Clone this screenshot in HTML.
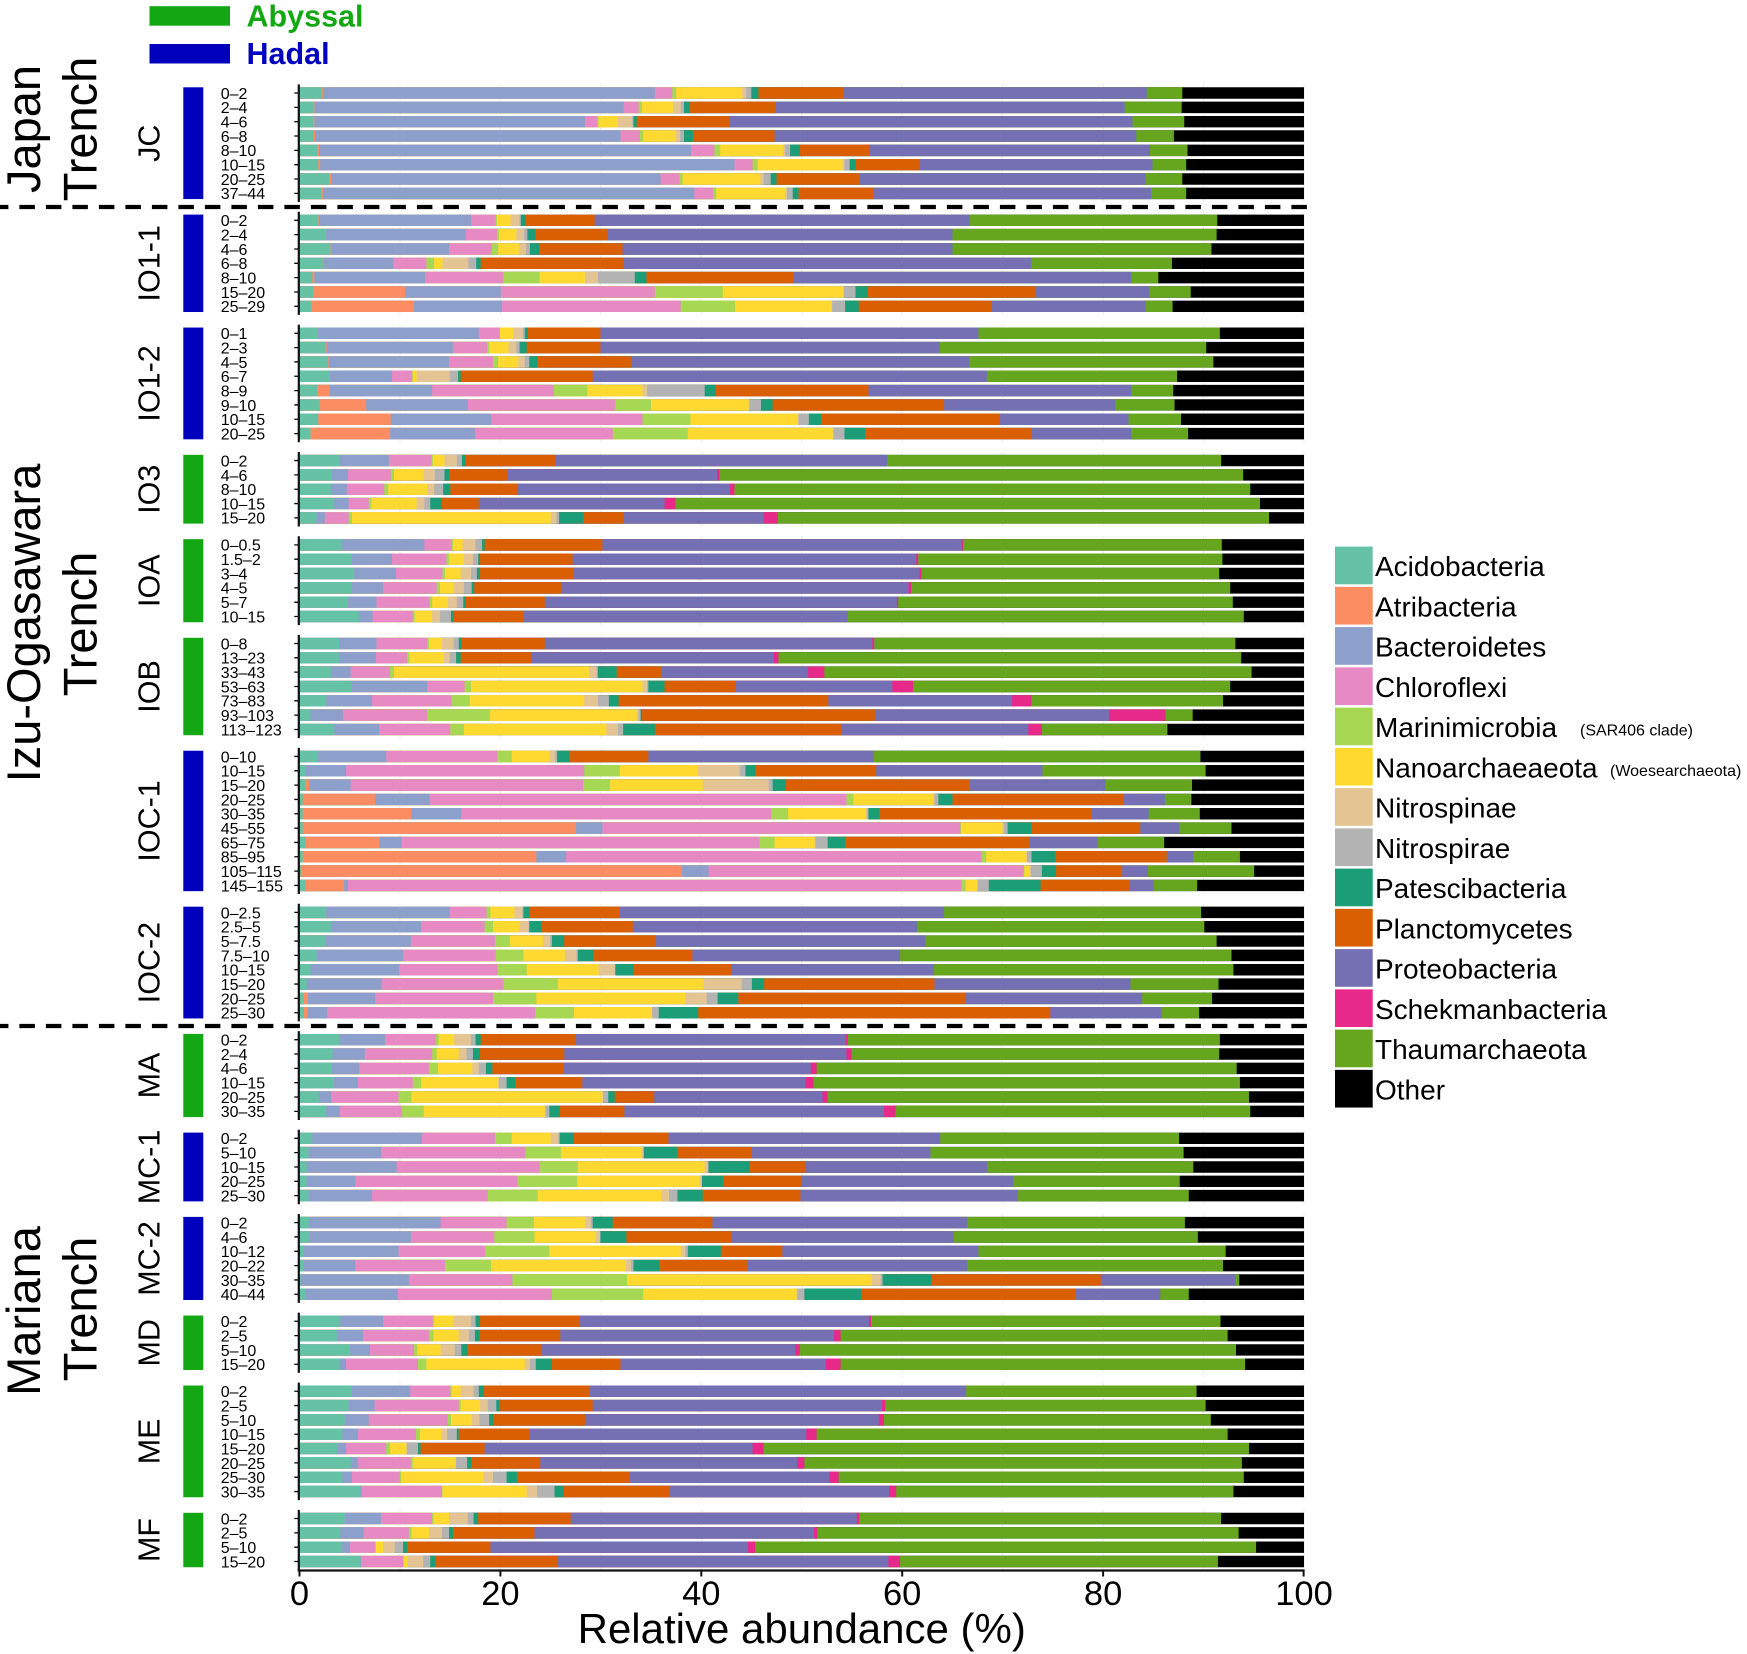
<!DOCTYPE html>
<html><head><meta charset="utf-8"><style>
html,body{margin:0;padding:0;background:#fff}
svg{display:block}
text{font-family:"Liberation Sans",Arial,sans-serif;fill:#000}
.B line{stroke-width:11.46px}
.a{stroke:#66C2A5}.b{stroke:#FC8D62}.c{stroke:#8DA0CB}.d{stroke:#E78AC3}.e{stroke:#A6D854}.f{stroke:#FFD92F}.g{stroke:#E5C494}.h{stroke:#B3B3B3}.i{stroke:#1B9E77}.j{stroke:#D95F02}.k{stroke:#7570B3}.l{stroke:#E7298A}.m{stroke:#66A61E}.n{stroke:#000}
.mk{fill:#fff}
.tk{stroke:#000;stroke-width:1.3;fill:none}
.ax{stroke:#111;stroke-width:2.2}
.hd{fill:#0000bd}.ab{fill:#13a813}
.fl{font-size:30.5px;text-anchor:middle}
.tr{font-size:47px;text-anchor:middle}
.dl{font-size:16px}
.lg{font-size:28px}
.sm{font-size:16px}
.xt{font-size:34.5px;text-anchor:middle}
</style></head><body>
<svg width="1747" height="1654" viewBox="0 0 1747 1654" xmlns="http://www.w3.org/2000/svg">
<rect width="1747" height="1654" fill="#fff"/>
<!-- top legend -->
<rect class="ab" x="149.5" y="6.2" width="80.5" height="19.5"/>
<rect class="hd" x="149.5" y="44" width="80.5" height="19.5"/>
<text x="246.5" y="26.3" style="font-size:30.5px;font-weight:bold;fill:#13a813">Abyssal</text>
<text x="246.5" y="63.8" style="font-size:30.5px;font-weight:bold;fill:#0000bd">Hadal</text>
<!-- trench labels -->
<text class="tr" transform="translate(40,129) rotate(-90)">Japan</text>
<text class="tr" transform="translate(96.7,129) rotate(-90)">Trench</text>
<text class="tr" transform="translate(40,623) rotate(-90)">Izu-Ogasawara</text>
<text class="tr" transform="translate(96.7,624) rotate(-90)">Trench</text>
<text class="tr" transform="translate(40,1311) rotate(-90)">Mariana</text>
<text class="tr" transform="translate(96.7,1309) rotate(-90)">Trench</text>
<!-- gridlines -->
<g stroke="#ebebeb" stroke-width="1">
<line x1="399.95" y1="84" x2="399.95" y2="1570"/><line x1="500.4" y1="84" x2="500.4" y2="1570"/><line x1="600.85" y1="84" x2="600.85" y2="1570"/><line x1="701.3" y1="84" x2="701.3" y2="1570"/><line x1="801.75" y1="84" x2="801.75" y2="1570"/><line x1="902.2" y1="84" x2="902.2" y2="1570"/><line x1="1002.65" y1="84" x2="1002.65" y2="1570"/><line x1="1103.1" y1="84" x2="1103.1" y2="1570"/><line x1="1203.55" y1="84" x2="1203.55" y2="1570"/><line x1="1304" y1="84" x2="1304" y2="1570"/>
</g>
<g fill="#fff">
<rect x="300" y="202" width="1010" height="9.7"/><rect x="300" y="314.9" width="1010" height="9.7"/><rect x="300" y="442.2" width="1010" height="9.7"/><rect x="300" y="526.5" width="1010" height="9.7"/><rect x="300" y="625.2" width="1010" height="9.7"/><rect x="300" y="738.1" width="1010" height="9.7"/><rect x="300" y="894.1" width="1010" height="9.7"/><rect x="300" y="1021.4" width="1010" height="9.7"/><rect x="300" y="1120" width="1010" height="9.7"/><rect x="300" y="1204.3" width="1010" height="9.7"/><rect x="300" y="1302.9" width="1010" height="9.7"/><rect x="300" y="1372.9" width="1010" height="9.7"/><rect x="300" y="1500.2" width="1010" height="9.7"/>
</g>

<!-- JC -->
<g transform="translate(0,87.3)">
<g class="B" transform="translate(293.03,0) scale(0.647229,1)">
<g transform="translate(0,5.73)"><line class="n" x2="1562"/><line class="m" x2="1374"/><line class="k" x2="1319"/><line class="j" x2="851"/><line class="i" x2="719"/><line class="h" x2="708"/><line class="g" x2="700"/><line class="f" x2="694"/><line class="e" x2="592"/><line class="d" x2="586"/><line class="c" x2="559"/><line class="b" x2="47"/><line class="a" x2="45"/></g>
<g transform="translate(0,20.06)"><line class="n" x2="1562"/><line class="m" x2="1373"/><line class="k" x2="1285"/><line class="j" x2="745"/><line class="i" x2="613"/><line class="h" x2="604"/><line class="g" x2="599"/><line class="f" x2="587"/><line class="e" x2="539"/><line class="d" x2="534"/><line class="c" x2="511"/><line class="b" x2="33"/><line class="a" x2="31"/></g>
<g transform="translate(0,34.39)"><line class="n" x2="1562"/><line class="m" x2="1377"/><line class="k" x2="1297"/><line class="j" x2="674"/><line class="i" x2="531"/><line class="h" x2="526"/><line class="g" x2="524"/><line class="f" x2="502"/><line class="e" x2="472"/><line class="d" x2="470"/><line class="c" x2="451"/><line class="b" x2="33"/><line class="a" x2="31"/></g>
<g transform="translate(0,48.72)"><line class="n" x2="1562"/><line class="m" x2="1361"/><line class="k" x2="1303"/><line class="j" x2="744"/><line class="i" x2="618"/><line class="h" x2="604"/><line class="g" x2="598"/><line class="f" x2="591"/><line class="e" x2="541"/><line class="d" x2="536"/><line class="c" x2="506"/><line class="b" x2="34"/><line class="a" x2="32"/></g>
<g transform="translate(0,63.05)"><line class="n" x2="1562"/><line class="m" x2="1382"/><line class="k" x2="1324"/><line class="j" x2="891"/><line class="i" x2="783"/><line class="h" x2="768"/><line class="g" x2="760"/><line class="f" x2="757"/><line class="e" x2="660"/><line class="d" x2="651"/><line class="c" x2="615"/><line class="b" x2="40"/><line class="a" x2="38"/></g>
<g transform="translate(0,77.38)"><line class="n" x2="1562"/><line class="m" x2="1380"/><line class="k" x2="1328"/><line class="j" x2="968"/><line class="i" x2="869"/><line class="h" x2="860"/><line class="g" x2="852"/><line class="f" x2="849"/><line class="e" x2="718"/><line class="d" x2="710"/><line class="c" x2="682"/><line class="b" x2="42"/><line class="a" x2="39"/></g>
<g transform="translate(0,91.71)"><line class="n" x2="1562"/><line class="m" x2="1374"/><line class="k" x2="1317"/><line class="j" x2="876"/><line class="i" x2="747"/><line class="h" x2="738"/><line class="g" x2="727"/><line class="f" x2="722"/><line class="e" x2="602"/><line class="d" x2="597"/><line class="c" x2="568"/><line class="b" x2="59"/><line class="a" x2="56"/></g>
<g transform="translate(0,106.04)"><line class="n" x2="1562"/><line class="m" x2="1380"/><line class="k" x2="1326"/><line class="j" x2="897"/><line class="i" x2="781"/><line class="h" x2="772"/><line class="g" x2="763"/><line class="f" x2="760"/><line class="e" x2="654"/><line class="d" x2="649"/><line class="c" x2="620"/><line class="b" x2="46"/><line class="a" x2="44"/></g>
</g>
<rect class="mk" x="292" y="-4" width="7.45" height="120"/>
<path class="tk" d="M294.3 5.73h4.5m-4.5 14.33h4.5m-4.5 14.33h4.5m-4.5 14.33h4.5m-4.5 14.33h4.5m-4.5 14.33h4.5m-4.5 14.33h4.5m-4.5 14.33h4.5"/>
<line class="ax" x1="298.8" y1="-2.9" x2="298.8" y2="114.67"/>
<rect class="hd" x="183.3" y="0" width="20" height="111.77"/>
<text class="fl" transform="translate(159.5,55.89) rotate(-90)">JC</text>
<text class="dl" x="220.7" y="11.6">0–2</text><text class="dl" x="220.7" y="25.93">2–4</text><text class="dl" x="220.7" y="40.26">4–6</text><text class="dl" x="220.7" y="54.59">6–8</text><text class="dl" x="220.7" y="68.92">8–10</text><text class="dl" x="220.7" y="83.25">10–15</text><text class="dl" x="220.7" y="97.58">20–25</text><text class="dl" x="220.7" y="111.91">37–44</text>
</g>

<!-- IO1-1 -->
<g transform="translate(0,214.59)">
<g class="B" transform="translate(293.03,0) scale(0.647229,1)">
<g transform="translate(0,5.73)"><line class="n" x2="1562"/><line class="m" x2="1428"/><line class="k" x2="1045"/><line class="j" x2="466"/><line class="i" x2="359"/><line class="h" x2="352"/><line class="g" x2="350"/><line class="f" x2="336"/><line class="e" x2="315"/><line class="d" x2="313"/><line class="c" x2="275"/><line class="b" x2="40"/><line class="a" x2="39"/></g>
<g transform="translate(0,20.06)"><line class="n" x2="1562"/><line class="m" x2="1427"/><line class="k" x2="1019"/><line class="j" x2="486"/><line class="i" x2="374"/><line class="h" x2="362"/><line class="g" x2="357"/><line class="f" x2="345"/><line class="e" x2="318"/><line class="d" x2="315"/><line class="c" x2="267"/><line class="b" x2="51"/><line class="a" x2="50"/></g>
<g transform="translate(0,34.39)"><line class="n" x2="1562"/><line class="m" x2="1419"/><line class="k" x2="1019"/><line class="j" x2="509"/><line class="i" x2="380"/><line class="h" x2="366"/><line class="g" x2="360"/><line class="f" x2="349"/><line class="e" x2="317"/><line class="d" x2="307"/><line class="c" x2="241"/><line class="b" x2="59"/><line class="a" x2="58"/></g>
<g transform="translate(0,48.72)"><line class="n" x2="1562"/><line class="m" x2="1358"/><line class="k" x2="1141"/><line class="j" x2="511"/><line class="i" x2="290"/><line class="h" x2="283"/><line class="g" x2="271"/><line class="f" x2="231"/><line class="e" x2="218"/><line class="d" x2="206"/><line class="c" x2="155"/><line class="b" x2="47"/><line class="a" x2="46"/></g>
<g transform="translate(0,63.05)"><line class="n" x2="1562"/><line class="m" x2="1337"/><line class="k" x2="1295"/><line class="j" x2="773"/><line class="i" x2="546"/><line class="h" x2="528"/><line class="g" x2="471"/><line class="f" x2="451"/><line class="e" x2="381"/><line class="d" x2="325"/><line class="c" x2="204"/><line class="b" x2="33"/><line class="a" x2="30"/></g>
<g transform="translate(0,77.38)"><line class="n" x2="1562"/><line class="m" x2="1387"/><line class="k" x2="1323"/><line class="j" x2="1147"/><line class="i" x2="888"/><line class="h" x2="869"/><line class="g" x2="851"/><line class="f" x2="850"/><line class="e" x2="664"/><line class="d" x2="559"/><line class="c" x2="321"/><line class="b" x2="173"/><line class="a" x2="31"/></g>
<g transform="translate(0,91.71)"><line class="n" x2="1562"/><line class="m" x2="1359"/><line class="k" x2="1318"/><line class="j" x2="1079"/><line class="i" x2="874"/><line class="h" x2="853"/><line class="g" x2="833"/><line class="f" x2="832"/><line class="e" x2="683"/><line class="d" x2="599"/><line class="c" x2="323"/><line class="b" x2="187"/><line class="a" x2="28"/></g>
</g>
<rect class="mk" x="292" y="-4" width="7.45" height="106"/>
<path class="tk" d="M294.3 5.73h4.5m-4.5 14.33h4.5m-4.5 14.33h4.5m-4.5 14.33h4.5m-4.5 14.33h4.5m-4.5 14.33h4.5m-4.5 14.33h4.5"/>
<line class="ax" x1="298.8" y1="-2.9" x2="298.8" y2="100.34"/>
<rect class="hd" x="183.3" y="0" width="20" height="97.44"/>
<text class="fl" transform="translate(159.5,48.72) rotate(-90)">IO1-1</text>
<text class="dl" x="220.7" y="11.6">0–2</text><text class="dl" x="220.7" y="25.93">2–4</text><text class="dl" x="220.7" y="40.26">4–6</text><text class="dl" x="220.7" y="54.59">6–8</text><text class="dl" x="220.7" y="68.92">8–10</text><text class="dl" x="220.7" y="83.25">15–20</text><text class="dl" x="220.7" y="97.58">25–29</text>
</g>

<!-- IO1-2 -->
<g transform="translate(0,327.55)">
<g class="B" transform="translate(293.03,0) scale(0.647229,1)">
<g transform="translate(0,5.73)"><line class="n" x2="1562"/><line class="m" x2="1432"/><line class="k" x2="1059"/><line class="j" x2="475"/><line class="i" x2="363"/><line class="h" x2="358"/><line class="g" x2="355"/><line class="f" x2="340"/><line class="e" x2="320"/><line class="d" x2="319"/><line class="c" x2="287"/><line class="b" x2="38"/><line class="a" x2="37"/></g>
<g transform="translate(0,20.06)"><line class="n" x2="1562"/><line class="m" x2="1411"/><line class="k" x2="999"/><line class="j" x2="475"/><line class="i" x2="361"/><line class="h" x2="350"/><line class="g" x2="345"/><line class="f" x2="333"/><line class="e" x2="303"/><line class="d" x2="300"/><line class="c" x2="247"/><line class="b" x2="52"/><line class="a" x2="51"/></g>
<g transform="translate(0,34.39)"><line class="n" x2="1562"/><line class="m" x2="1422"/><line class="k" x2="1045"/><line class="j" x2="522"/><line class="i" x2="377"/><line class="h" x2="365"/><line class="g" x2="358"/><line class="f" x2="348"/><line class="e" x2="317"/><line class="d" x2="309"/><line class="c" x2="241"/><line class="b" x2="55"/><line class="a" x2="54"/></g>
<g transform="translate(0,48.72)"><line class="n" x2="1562"/><line class="m" x2="1366"/><line class="k" x2="1072"/><line class="j" x2="463"/><line class="i" x2="259"/><line class="h" x2="255"/><line class="g" x2="242"/><line class="f" x2="191"/><line class="e" x2="185"/><line class="d" x2="184"/><line class="c" x2="153"/><line class="b" x2="57"/><line class="a" x2="56"/></g>
<g transform="translate(0,63.05)"><line class="n" x2="1562"/><line class="m" x2="1360"/><line class="k" x2="1295"/><line class="j" x2="889"/><line class="i" x2="653"/><line class="h" x2="636"/><line class="g" x2="547"/><line class="f" x2="540"/><line class="e" x2="455"/><line class="d" x2="403"/><line class="c" x2="215"/><line class="b" x2="57"/><line class="a" x2="37"/></g>
<g transform="translate(0,77.38)"><line class="n" x2="1562"/><line class="m" x2="1362"/><line class="k" x2="1270"/><line class="j" x2="1006"/><line class="i" x2="741"/><line class="h" x2="723"/><line class="g" x2="705"/><line class="f" x2="704"/><line class="e" x2="553"/><line class="d" x2="498"/><line class="c" x2="270"/><line class="b" x2="113"/><line class="a" x2="41"/></g>
<g transform="translate(0,91.71)"><line class="n" x2="1562"/><line class="m" x2="1372"/><line class="k" x2="1291"/><line class="j" x2="1091"/><line class="i" x2="816"/><line class="h" x2="797"/><line class="g" x2="781"/><line class="f" x2="780"/><line class="e" x2="614"/><line class="d" x2="540"/><line class="c" x2="306"/><line class="b" x2="151"/><line class="a" x2="39"/></g>
<g transform="translate(0,106.04)"><line class="n" x2="1562"/><line class="m" x2="1383"/><line class="k" x2="1295"/><line class="j" x2="1141"/><line class="i" x2="884"/><line class="h" x2="852"/><line class="g" x2="835"/><line class="f" x2="834"/><line class="e" x2="610"/><line class="d" x2="494"/><line class="c" x2="281"/><line class="b" x2="150"/><line class="a" x2="27"/></g>
</g>
<rect class="mk" x="292" y="-4" width="7.45" height="120"/>
<path class="tk" d="M294.3 5.73h4.5m-4.5 14.33h4.5m-4.5 14.33h4.5m-4.5 14.33h4.5m-4.5 14.33h4.5m-4.5 14.33h4.5m-4.5 14.33h4.5m-4.5 14.33h4.5"/>
<line class="ax" x1="298.8" y1="-2.9" x2="298.8" y2="114.67"/>
<rect class="hd" x="183.3" y="0" width="20" height="111.77"/>
<text class="fl" transform="translate(159.5,55.89) rotate(-90)">IO1-2</text>
<text class="dl" x="220.7" y="11.6">0–1</text><text class="dl" x="220.7" y="25.93">2–3</text><text class="dl" x="220.7" y="40.26">4–5</text><text class="dl" x="220.7" y="54.59">6–7</text><text class="dl" x="220.7" y="68.92">8–9</text><text class="dl" x="220.7" y="83.25">9–10</text><text class="dl" x="220.7" y="97.58">10–15</text><text class="dl" x="220.7" y="111.91">20–25</text>
</g>

<!-- IO3 -->
<g transform="translate(0,454.84)">
<g class="B" transform="translate(293.03,0) scale(0.647229,1)">
<g transform="translate(0,5.73)"><line class="n" x2="1562"/><line class="m" x2="1434"/><line class="k" x2="918"/><line class="j" x2="405"/><line class="i" x2="266"/><line class="h" x2="261"/><line class="g" x2="253"/><line class="f" x2="234"/><line class="e" x2="216"/><line class="d" x2="214"/><line class="c" x2="148"/><line class="a" x2="72"/></g>
<g transform="translate(0,20.06)"><line class="n" x2="1562"/><line class="m" x2="1468"/><line class="l" x2="659"/><line class="k" x2="655"/><line class="j" x2="331"/><line class="i" x2="241"/><line class="h" x2="234"/><line class="g" x2="219"/><line class="f" x2="202"/><line class="e" x2="156"/><line class="d" x2="151"/><line class="c" x2="85"/><line class="a" x2="60"/></g>
<g transform="translate(0,34.39)"><line class="n" x2="1562"/><line class="m" x2="1479"/><line class="l" x2="682"/><line class="k" x2="675"/><line class="j" x2="347"/><line class="i" x2="243"/><line class="h" x2="232"/><line class="g" x2="218"/><line class="f" x2="207"/><line class="e" x2="147"/><line class="d" x2="141"/><line class="c" x2="83"/><line class="a" x2="59"/></g>
<g transform="translate(0,48.72)"><line class="n" x2="1562"/><line class="m" x2="1494"/><line class="l" x2="591"/><line class="k" x2="574"/><line class="j" x2="287"/><line class="i" x2="230"/><line class="h" x2="212"/><line class="g" x2="203"/><line class="f" x2="191"/><line class="e" x2="121"/><line class="d" x2="117"/><line class="c" x2="86"/><line class="a" x2="63"/></g>
<g transform="translate(0,63.05)"><line class="n" x2="1562"/><line class="m" x2="1508"/><line class="l" x2="749"/><line class="k" x2="727"/><line class="j" x2="511"/><line class="i" x2="448"/><line class="h" x2="411"/><line class="g" x2="407"/><line class="f" x2="398"/><line class="e" x2="91"/><line class="d" x2="86"/><line class="c" x2="49"/><line class="a" x2="36"/></g>
</g>
<rect class="mk" x="292" y="-4" width="7.45" height="77"/>
<path class="tk" d="M294.3 5.73h4.5m-4.5 14.33h4.5m-4.5 14.33h4.5m-4.5 14.33h4.5m-4.5 14.33h4.5"/>
<line class="ax" x1="298.8" y1="-2.9" x2="298.8" y2="71.68"/>
<rect class="ab" x="183.3" y="0" width="20" height="68.78"/>
<text class="fl" transform="translate(159.5,34.39) rotate(-90)">IO3</text>
<text class="dl" x="220.7" y="11.6">0–2</text><text class="dl" x="220.7" y="25.93">4–6</text><text class="dl" x="220.7" y="40.26">8–10</text><text class="dl" x="220.7" y="54.59">10–15</text><text class="dl" x="220.7" y="68.92">15–20</text>
</g>

<!-- IOA -->
<g transform="translate(0,539.14)">
<g class="B" transform="translate(293.03,0) scale(0.647229,1)">
<g transform="translate(0,5.73)"><line class="n" x2="1562"/><line class="m" x2="1435"/><line class="l" x2="1035"/><line class="k" x2="1033"/><line class="j" x2="478"/><line class="i" x2="296"/><line class="h" x2="292"/><line class="g" x2="282"/><line class="f" x2="262"/><line class="e" x2="247"/><line class="d" x2="245"/><line class="c" x2="203"/><line class="a" x2="75"/></g>
<g transform="translate(0,20.06)"><line class="n" x2="1562"/><line class="m" x2="1436"/><line class="l" x2="966"/><line class="k" x2="963"/><line class="j" x2="432"/><line class="i" x2="289"/><line class="h" x2="286"/><line class="g" x2="278"/><line class="f" x2="264"/><line class="e" x2="241"/><line class="d" x2="237"/><line class="c" x2="153"/><line class="a" x2="91"/></g>
<g transform="translate(0,34.39)"><line class="n" x2="1562"/><line class="m" x2="1431"/><line class="l" x2="971"/><line class="k" x2="968"/><line class="j" x2="434"/><line class="i" x2="289"/><line class="h" x2="284"/><line class="g" x2="275"/><line class="f" x2="259"/><line class="e" x2="235"/><line class="d" x2="231"/><line class="c" x2="159"/><line class="a" x2="94"/></g>
<g transform="translate(0,48.72)"><line class="n" x2="1562"/><line class="m" x2="1448"/><line class="l" x2="955"/><line class="k" x2="951"/><line class="j" x2="414"/><line class="i" x2="280"/><line class="h" x2="276"/><line class="g" x2="264"/><line class="f" x2="248"/><line class="e" x2="227"/><line class="d" x2="222"/><line class="c" x2="139"/><line class="a" x2="91"/></g>
<g transform="translate(0,63.05)"><line class="n" x2="1562"/><line class="m" x2="1452"/><line class="l" x2="935"/><line class="k" x2="933"/><line class="j" x2="389"/><line class="i" x2="267"/><line class="h" x2="263"/><line class="g" x2="253"/><line class="f" x2="239"/><line class="e" x2="215"/><line class="d" x2="211"/><line class="c" x2="129"/><line class="a" x2="85"/></g>
<g transform="translate(0,77.38)"><line class="n" x2="1562"/><line class="m" x2="1469"/><line class="k" x2="857"/><line class="j" x2="357"/><line class="i" x2="248"/><line class="h" x2="244"/><line class="g" x2="227"/><line class="f" x2="215"/><line class="e" x2="188"/><line class="d" x2="185"/><line class="c" x2="123"/><line class="a" x2="102"/></g>
</g>
<rect class="mk" x="292" y="-4" width="7.45" height="91"/>
<path class="tk" d="M294.3 5.73h4.5m-4.5 14.33h4.5m-4.5 14.33h4.5m-4.5 14.33h4.5m-4.5 14.33h4.5m-4.5 14.33h4.5"/>
<line class="ax" x1="298.8" y1="-2.9" x2="298.8" y2="86.01"/>
<rect class="ab" x="183.3" y="0" width="20" height="83.11"/>
<text class="fl" transform="translate(159.5,41.56) rotate(-90)">IOA</text>
<text class="dl" x="220.7" y="11.6">0–0.5</text><text class="dl" x="220.7" y="25.93">1.5–2</text><text class="dl" x="220.7" y="40.26">3–4</text><text class="dl" x="220.7" y="54.59">4–5</text><text class="dl" x="220.7" y="68.92">5–7</text><text class="dl" x="220.7" y="83.25">10–15</text>
</g>

<!-- IOB -->
<g transform="translate(0,637.77)">
<g class="B" transform="translate(293.03,0) scale(0.647229,1)">
<g transform="translate(0,5.73)"><line class="n" x2="1562"/><line class="m" x2="1456"/><line class="l" x2="898"/><line class="k" x2="895"/><line class="j" x2="389"/><line class="i" x2="260"/><line class="h" x2="256"/><line class="g" x2="248"/><line class="f" x2="230"/><line class="e" x2="210"/><line class="d" x2="207"/><line class="c" x2="129"/><line class="a" x2="71"/></g>
<g transform="translate(0,20.06)"><line class="n" x2="1562"/><line class="m" x2="1465"/><line class="l" x2="750"/><line class="k" x2="743"/><line class="j" x2="369"/><line class="i" x2="259"/><line class="h" x2="252"/><line class="g" x2="242"/><line class="f" x2="233"/><line class="e" x2="180"/><line class="d" x2="176"/><line class="c" x2="128"/><line class="a" x2="71"/></g>
<g transform="translate(0,34.39)"><line class="n" x2="1562"/><line class="m" x2="1481"/><line class="l" x2="821"/><line class="k" x2="796"/><line class="j" x2="569"/><line class="i" x2="500"/><line class="h" x2="471"/><line class="g" x2="469"/><line class="f" x2="457"/><line class="e" x2="156"/><line class="d" x2="150"/><line class="c" x2="89"/><line class="a" x2="59"/></g>
<g transform="translate(0,48.72)"><line class="n" x2="1562"/><line class="m" x2="1448"/><line class="l" x2="958"/><line class="k" x2="926"/><line class="j" x2="683"/><line class="i" x2="574"/><line class="h" x2="549"/><line class="g" x2="547"/><line class="f" x2="540"/><line class="e" x2="275"/><line class="d" x2="265"/><line class="c" x2="207"/><line class="a" x2="91"/></g>
<g transform="translate(0,63.05)"><line class="n" x2="1562"/><line class="m" x2="1437"/><line class="l" x2="1141"/><line class="k" x2="1111"/><line class="j" x2="827"/><line class="i" x2="503"/><line class="h" x2="488"/><line class="g" x2="471"/><line class="f" x2="450"/><line class="e" x2="273"/><line class="d" x2="245"/><line class="c" x2="122"/><line class="a" x2="51"/></g>
<g transform="translate(0,77.38)"><line class="n" x2="1562"/><line class="m" x2="1390"/><line class="l" x2="1348"/><line class="k" x2="1261"/><line class="j" x2="899"/><line class="i" x2="539"/><line class="h" x2="537"/><line class="g" x2="534"/><line class="f" x2="531"/><line class="e" x2="304"/><line class="d" x2="207"/><line class="c" x2="77"/><line class="a" x2="27"/></g>
<g transform="translate(0,91.71)"><line class="n" x2="1562"/><line class="m" x2="1351"/><line class="l" x2="1157"/><line class="k" x2="1136"/><line class="j" x2="847"/><line class="i" x2="559"/><line class="h" x2="510"/><line class="g" x2="502"/><line class="f" x2="484"/><line class="e" x2="264"/><line class="d" x2="243"/><line class="c" x2="133"/><line class="a" x2="63"/></g>
</g>
<rect class="mk" x="292" y="-4" width="7.45" height="106"/>
<path class="tk" d="M294.3 5.73h4.5m-4.5 14.33h4.5m-4.5 14.33h4.5m-4.5 14.33h4.5m-4.5 14.33h4.5m-4.5 14.33h4.5m-4.5 14.33h4.5"/>
<line class="ax" x1="298.8" y1="-2.9" x2="298.8" y2="100.34"/>
<rect class="ab" x="183.3" y="0" width="20" height="97.44"/>
<text class="fl" transform="translate(159.5,48.72) rotate(-90)">IOB</text>
<text class="dl" x="220.7" y="11.6">0–8</text><text class="dl" x="220.7" y="25.93">13–23</text><text class="dl" x="220.7" y="40.26">33–43</text><text class="dl" x="220.7" y="54.59">53–63</text><text class="dl" x="220.7" y="68.92">73–83</text><text class="dl" x="220.7" y="83.25">93–103</text><text class="dl" x="220.7" y="97.58">113–123</text>
</g>

<!-- IOC-1 -->
<g transform="translate(0,750.73)">
<g class="B" transform="translate(293.03,0) scale(0.647229,1)">
<g transform="translate(0,5.73)"><line class="n" x2="1562"/><line class="m" x2="1402"/><line class="k" x2="897"/><line class="j" x2="549"/><line class="i" x2="427"/><line class="h" x2="408"/><line class="g" x2="405"/><line class="f" x2="396"/><line class="e" x2="338"/><line class="d" x2="316"/><line class="c" x2="144"/><line class="a" x2="38"/></g>
<g transform="translate(0,20.06)"><line class="n" x2="1562"/><line class="m" x2="1410"/><line class="k" x2="1158"/><line class="j" x2="901"/><line class="i" x2="714"/><line class="h" x2="699"/><line class="g" x2="690"/><line class="f" x2="626"/><line class="e" x2="505"/><line class="d" x2="450"/><line class="c" x2="82"/><line class="b" x2="20"/><line class="a" x2="19"/></g>
<g transform="translate(0,34.39)"><line class="n" x2="1562"/><line class="m" x2="1389"/><line class="k" x2="1255"/><line class="j" x2="1045"/><line class="i" x2="761"/><line class="h" x2="741"/><line class="g" x2="735"/><line class="f" x2="633"/><line class="e" x2="490"/><line class="d" x2="448"/><line class="c" x2="89"/><line class="b" x2="25"/><line class="a" x2="19"/></g>
<g transform="translate(0,48.72)"><line class="n" x2="1562"/><line class="m" x2="1388"/><line class="k" x2="1347"/><line class="j" x2="1283"/><line class="i" x2="1019"/><line class="h" x2="997"/><line class="g" x2="991"/><line class="f" x2="989"/><line class="e" x2="866"/><line class="d" x2="855"/><line class="c" x2="211"/><line class="b" x2="127"/><line class="a" x2="15"/></g>
<g transform="translate(0,63.05)"><line class="n" x2="1562"/><line class="m" x2="1401"/><line class="k" x2="1322"/><line class="j" x2="1233"/><line class="i" x2="906"/><line class="h" x2="889"/><line class="g" x2="887"/><line class="f" x2="885"/><line class="e" x2="765"/><line class="d" x2="739"/><line class="c" x2="260"/><line class="b" x2="183"/><line class="a" x2="15"/></g>
<g transform="translate(0,77.38)"><line class="n" x2="1562"/><line class="m" x2="1450"/><line class="k" x2="1369"/><line class="j" x2="1309"/><line class="i" x2="1141"/><line class="h" x2="1104"/><line class="g" x2="1098"/><line class="f" x2="1096"/><line class="e" x2="1032"/><line class="d" x2="1031"/><line class="c" x2="478"/><line class="b" x2="437"/><line class="a" x2="15"/></g>
<g transform="translate(0,91.71)"><line class="n" x2="1562"/><line class="m" x2="1346"/><line class="k" x2="1243"/><line class="j" x2="1137"/><line class="i" x2="853"/><line class="h" x2="826"/><line class="g" x2="807"/><line class="f" x2="806"/><line class="e" x2="744"/><line class="d" x2="721"/><line class="c" x2="168"/><line class="b" x2="133"/><line class="a" x2="19"/></g>
<g transform="translate(0,106.04)"><line class="n" x2="1562"/><line class="m" x2="1463"/><line class="k" x2="1391"/><line class="j" x2="1350"/><line class="i" x2="1178"/><line class="h" x2="1141"/><line class="g" x2="1134"/><line class="f" x2="1133"/><line class="e" x2="1071"/><line class="d" x2="1064"/><line class="c" x2="422"/><line class="b" x2="376"/><line class="a" x2="15"/></g>
<g transform="translate(0,120.37)"><line class="n" x2="1562"/><line class="m" x2="1485"/><line class="k" x2="1321"/><line class="j" x2="1281"/><line class="i" x2="1179"/><line class="h" x2="1157"/><line class="g" x2="1140"/><line class="f" x2="1138"/><line class="e" x2="1130"/><line class="d" x2="1129"/><line class="c" x2="642"/><line class="b" x2="601"/><line class="a" x2="12"/></g>
<g transform="translate(0,134.7)"><line class="n" x2="1562"/><line class="m" x2="1397"/><line class="k" x2="1330"/><line class="j" x2="1293"/><line class="i" x2="1155"/><line class="h" x2="1075"/><line class="g" x2="1058"/><line class="f" x2="1057"/><line class="e" x2="1039"/><line class="d" x2="1033"/><line class="c" x2="85"/><line class="b" x2="79"/><line class="a" x2="19"/></g>
</g>
<rect class="mk" x="292" y="-4" width="7.45" height="149"/>
<path class="tk" d="M294.3 5.73h4.5m-4.5 14.33h4.5m-4.5 14.33h4.5m-4.5 14.33h4.5m-4.5 14.33h4.5m-4.5 14.33h4.5m-4.5 14.33h4.5m-4.5 14.33h4.5m-4.5 14.33h4.5m-4.5 14.33h4.5"/>
<line class="ax" x1="298.8" y1="-2.9" x2="298.8" y2="143.33"/>
<rect class="hd" x="183.3" y="0" width="20" height="140.43"/>
<text class="fl" transform="translate(159.5,70.2) rotate(-90)">IOC-1</text>
<text class="dl" x="220.7" y="11.6">0–10</text><text class="dl" x="220.7" y="25.93">10–15</text><text class="dl" x="220.7" y="40.26">15–20</text><text class="dl" x="220.7" y="54.59">20–25</text><text class="dl" x="220.7" y="68.92">30–35</text><text class="dl" x="220.7" y="83.25">45–55</text><text class="dl" x="220.7" y="97.58">65–75</text><text class="dl" x="220.7" y="111.91">85–95</text><text class="dl" x="220.7" y="126.24">105–115</text><text class="dl" x="220.7" y="140.57">145–155</text>
</g>

<!-- IOC-2 -->
<g transform="translate(0,906.68)">
<g class="B" transform="translate(293.03,0) scale(0.647229,1)">
<g transform="translate(0,5.73)"><line class="n" x2="1562"/><line class="m" x2="1403"/><line class="k" x2="1006"/><line class="j" x2="504"/><line class="i" x2="366"/><line class="h" x2="356"/><line class="g" x2="354"/><line class="f" x2="342"/><line class="e" x2="305"/><line class="d" x2="299"/><line class="c" x2="242"/><line class="a" x2="51"/></g>
<g transform="translate(0,20.06)"><line class="n" x2="1562"/><line class="m" x2="1408"/><line class="k" x2="964"/><line class="j" x2="525"/><line class="i" x2="384"/><line class="h" x2="365"/><line class="g" x2="364"/><line class="f" x2="350"/><line class="e" x2="309"/><line class="d" x2="296"/><line class="c" x2="198"/><line class="a" x2="59"/></g>
<g transform="translate(0,34.39)"><line class="n" x2="1562"/><line class="m" x2="1427"/><line class="k" x2="977"/><line class="j" x2="560"/><line class="i" x2="419"/><line class="h" x2="400"/><line class="g" x2="397"/><line class="f" x2="386"/><line class="e" x2="335"/><line class="d" x2="312"/><line class="c" x2="182"/><line class="a" x2="50"/></g>
<g transform="translate(0,48.72)"><line class="n" x2="1562"/><line class="m" x2="1450"/><line class="k" x2="938"/><line class="j" x2="617"/><line class="i" x2="464"/><line class="h" x2="440"/><line class="g" x2="438"/><line class="f" x2="420"/><line class="e" x2="356"/><line class="d" x2="313"/><line class="c" x2="170"/><line class="a" x2="36"/></g>
<g transform="translate(0,63.05)"><line class="n" x2="1562"/><line class="m" x2="1453"/><line class="k" x2="990"/><line class="j" x2="678"/><line class="i" x2="526"/><line class="h" x2="498"/><line class="g" x2="497"/><line class="f" x2="472"/><line class="e" x2="361"/><line class="d" x2="316"/><line class="c" x2="164"/><line class="a" x2="27"/></g>
<g transform="translate(0,77.38)"><line class="n" x2="1562"/><line class="m" x2="1430"/><line class="k" x2="1294"/><line class="j" x2="991"/><line class="i" x2="728"/><line class="h" x2="709"/><line class="g" x2="693"/><line class="f" x2="634"/><line class="e" x2="409"/><line class="d" x2="325"/><line class="c" x2="137"/><line class="a" x2="21"/></g>
<g transform="translate(0,91.71)"><line class="n" x2="1562"/><line class="m" x2="1420"/><line class="k" x2="1312"/><line class="j" x2="1039"/><line class="i" x2="688"/><line class="h" x2="656"/><line class="g" x2="639"/><line class="f" x2="606"/><line class="e" x2="376"/><line class="d" x2="309"/><line class="c" x2="127"/><line class="b" x2="23"/><line class="a" x2="16"/></g>
<g transform="translate(0,106.04)"><line class="n" x2="1562"/><line class="m" x2="1400"/><line class="k" x2="1342"/><line class="j" x2="1170"/><line class="i" x2="626"/><line class="h" x2="565"/><line class="g" x2="555"/><line class="f" x2="554"/><line class="e" x2="434"/><line class="d" x2="374"/><line class="c" x2="53"/><line class="b" x2="22"/><line class="a" x2="17"/></g>
</g>
<rect class="mk" x="292" y="-4" width="7.45" height="120"/>
<path class="tk" d="M294.3 5.73h4.5m-4.5 14.33h4.5m-4.5 14.33h4.5m-4.5 14.33h4.5m-4.5 14.33h4.5m-4.5 14.33h4.5m-4.5 14.33h4.5m-4.5 14.33h4.5"/>
<line class="ax" x1="298.8" y1="-2.9" x2="298.8" y2="114.67"/>
<rect class="hd" x="183.3" y="0" width="20" height="111.77"/>
<text class="fl" transform="translate(159.5,55.89) rotate(-90)">IOC-2</text>
<text class="dl" x="220.7" y="11.6">0–2.5</text><text class="dl" x="220.7" y="25.93">2.5–5</text><text class="dl" x="220.7" y="40.26">5–7.5</text><text class="dl" x="220.7" y="54.59">7.5–10</text><text class="dl" x="220.7" y="68.92">10–15</text><text class="dl" x="220.7" y="83.25">15–20</text><text class="dl" x="220.7" y="97.58">20–25</text><text class="dl" x="220.7" y="111.91">25–30</text>
</g>

<!-- MA -->
<g transform="translate(0,1033.97)">
<g class="B" transform="translate(293.03,0) scale(0.647229,1)">
<g transform="translate(0,5.73)"><line class="n" x2="1562"/><line class="m" x2="1432"/><line class="l" x2="857"/><line class="k" x2="854"/><line class="j" x2="436"/><line class="i" x2="290"/><line class="h" x2="282"/><line class="g" x2="275"/><line class="f" x2="249"/><line class="e" x2="225"/><line class="d" x2="221"/><line class="c" x2="142"/><line class="a" x2="72"/></g>
<g transform="translate(0,20.06)"><line class="n" x2="1562"/><line class="m" x2="1431"/><line class="l" x2="863"/><line class="k" x2="855"/><line class="j" x2="419"/><line class="i" x2="289"/><line class="h" x2="278"/><line class="g" x2="268"/><line class="f" x2="256"/><line class="e" x2="222"/><line class="d" x2="215"/><line class="c" x2="111"/><line class="a" x2="61"/></g>
<g transform="translate(0,34.39)"><line class="n" x2="1562"/><line class="m" x2="1458"/><line class="l" x2="809"/><line class="k" x2="800"/><line class="j" x2="418"/><line class="i" x2="308"/><line class="h" x2="298"/><line class="g" x2="287"/><line class="f" x2="277"/><line class="e" x2="224"/><line class="d" x2="210"/><line class="c" x2="102"/><line class="a" x2="60"/></g>
<g transform="translate(0,48.72)"><line class="n" x2="1562"/><line class="m" x2="1463"/><line class="l" x2="804"/><line class="k" x2="792"/><line class="j" x2="447"/><line class="i" x2="343"/><line class="h" x2="330"/><line class="g" x2="318"/><line class="f" x2="317"/><line class="e" x2="198"/><line class="d" x2="185"/><line class="c" x2="100"/><line class="a" x2="63"/></g>
<g transform="translate(0,63.05)"><line class="n" x2="1562"/><line class="m" x2="1477"/><line class="l" x2="826"/><line class="k" x2="818"/><line class="j" x2="558"/><line class="i" x2="497"/><line class="h" x2="487"/><line class="g" x2="479"/><line class="f" x2="478"/><line class="e" x2="183"/><line class="d" x2="163"/><line class="c" x2="59"/><line class="a" x2="40"/></g>
<g transform="translate(0,77.38)"><line class="n" x2="1562"/><line class="m" x2="1479"/><line class="l" x2="931"/><line class="k" x2="913"/><line class="j" x2="512"/><line class="i" x2="412"/><line class="h" x2="396"/><line class="g" x2="390"/><line class="f" x2="389"/><line class="e" x2="202"/><line class="d" x2="168"/><line class="c" x2="72"/><line class="a" x2="51"/></g>
</g>
<rect class="mk" x="292" y="-4" width="7.45" height="91"/>
<path class="tk" d="M294.3 5.73h4.5m-4.5 14.33h4.5m-4.5 14.33h4.5m-4.5 14.33h4.5m-4.5 14.33h4.5m-4.5 14.33h4.5"/>
<line class="ax" x1="298.8" y1="-2.9" x2="298.8" y2="86.01"/>
<rect class="ab" x="183.3" y="0" width="20" height="83.11"/>
<text class="fl" transform="translate(159.5,41.56) rotate(-90)">MA</text>
<text class="dl" x="220.7" y="11.6">0–2</text><text class="dl" x="220.7" y="25.93">2–4</text><text class="dl" x="220.7" y="40.26">4–6</text><text class="dl" x="220.7" y="54.59">10–15</text><text class="dl" x="220.7" y="68.92">20–25</text><text class="dl" x="220.7" y="83.25">30–35</text>
</g>

<!-- MC-1 -->
<g transform="translate(0,1132.6)">
<g class="B" transform="translate(293.03,0) scale(0.647229,1)">
<g transform="translate(0,5.73)"><line class="n" x2="1562"/><line class="m" x2="1369"/><line class="k" x2="1000"/><line class="j" x2="580"/><line class="i" x2="434"/><line class="h" x2="412"/><line class="g" x2="410"/><line class="f" x2="398"/><line class="e" x2="338"/><line class="d" x2="312"/><line class="c" x2="199"/><line class="a" x2="30"/></g>
<g transform="translate(0,20.06)"><line class="n" x2="1562"/><line class="m" x2="1376"/><line class="k" x2="985"/><line class="j" x2="709"/><line class="i" x2="594"/><line class="h" x2="542"/><line class="g" x2="541"/><line class="f" x2="538"/><line class="e" x2="414"/><line class="d" x2="359"/><line class="c" x2="136"/><line class="a" x2="24"/></g>
<g transform="translate(0,34.39)"><line class="n" x2="1562"/><line class="m" x2="1391"/><line class="k" x2="1073"/><line class="j" x2="791"/><line class="i" x2="705"/><line class="h" x2="642"/><line class="g" x2="641"/><line class="f" x2="636"/><line class="e" x2="440"/><line class="d" x2="381"/><line class="c" x2="160"/><line class="a" x2="21"/></g>
<g transform="translate(0,48.72)"><line class="n" x2="1562"/><line class="m" x2="1370"/><line class="k" x2="1113"/><line class="j" x2="785"/><line class="i" x2="665"/><line class="h" x2="632"/><line class="g" x2="631"/><line class="f" x2="628"/><line class="e" x2="439"/><line class="d" x2="347"/><line class="c" x2="96"/><line class="a" x2="21"/></g>
<g transform="translate(0,63.05)"><line class="n" x2="1562"/><line class="m" x2="1384"/><line class="k" x2="1120"/><line class="j" x2="784"/><line class="i" x2="633"/><line class="h" x2="594"/><line class="g" x2="581"/><line class="f" x2="569"/><line class="e" x2="378"/><line class="d" x2="301"/><line class="c" x2="122"/><line class="a" x2="24"/></g>
</g>
<rect class="mk" x="292" y="-4" width="7.45" height="77"/>
<path class="tk" d="M294.3 5.73h4.5m-4.5 14.33h4.5m-4.5 14.33h4.5m-4.5 14.33h4.5m-4.5 14.33h4.5"/>
<line class="ax" x1="298.8" y1="-2.9" x2="298.8" y2="71.68"/>
<rect class="hd" x="183.3" y="0" width="20" height="68.78"/>
<text class="fl" transform="translate(159.5,34.39) rotate(-90)">MC-1</text>
<text class="dl" x="220.7" y="11.6">0–2</text><text class="dl" x="220.7" y="25.93">5–10</text><text class="dl" x="220.7" y="40.26">10–15</text><text class="dl" x="220.7" y="54.59">20–25</text><text class="dl" x="220.7" y="68.92">25–30</text>
</g>

<!-- MC-2 -->
<g transform="translate(0,1216.9)">
<g class="B" transform="translate(293.03,0) scale(0.647229,1)">
<g transform="translate(0,5.73)"><line class="n" x2="1562"/><line class="m" x2="1378"/><line class="k" x2="1042"/><line class="j" x2="648"/><line class="i" x2="494"/><line class="h" x2="463"/><line class="g" x2="460"/><line class="f" x2="451"/><line class="e" x2="372"/><line class="d" x2="330"/><line class="c" x2="228"/><line class="a" x2="25"/></g>
<g transform="translate(0,20.06)"><line class="n" x2="1562"/><line class="m" x2="1398"/><line class="k" x2="1021"/><line class="j" x2="678"/><line class="i" x2="515"/><line class="h" x2="475"/><line class="g" x2="474"/><line class="f" x2="467"/><line class="e" x2="373"/><line class="d" x2="311"/><line class="c" x2="182"/><line class="a" x2="25"/></g>
<g transform="translate(0,34.39)"><line class="n" x2="1562"/><line class="m" x2="1441"/><line class="k" x2="1059"/><line class="j" x2="756"/><line class="i" x2="661"/><line class="h" x2="610"/><line class="g" x2="606"/><line class="f" x2="599"/><line class="e" x2="396"/><line class="d" x2="297"/><line class="c" x2="163"/><line class="a" x2="17"/></g>
<g transform="translate(0,48.72)"><line class="n" x2="1562"/><line class="m" x2="1437"/><line class="k" x2="1042"/><line class="j" x2="702"/><line class="i" x2="566"/><line class="h" x2="526"/><line class="g" x2="522"/><line class="f" x2="514"/><line class="e" x2="306"/><line class="d" x2="235"/><line class="c" x2="96"/><line class="a" x2="17"/></g>
<g transform="translate(0,63.05)"><line class="n" x2="1562"/><line class="m" x2="1462"/><line class="k" x2="1456"/><line class="j" x2="1248"/><line class="i" x2="986"/><line class="h" x2="911"/><line class="g" x2="908"/><line class="f" x2="894"/><line class="e" x2="516"/><line class="d" x2="339"/><line class="c" x2="179"/><line class="a" x2="12"/></g>
<g transform="translate(0,77.38)"><line class="n" x2="1562"/><line class="m" x2="1384"/><line class="k" x2="1340"/><line class="j" x2="1209"/><line class="i" x2="878"/><line class="h" x2="790"/><line class="g" x2="779"/><line class="f" x2="778"/><line class="e" x2="541"/><line class="d" x2="400"/><line class="c" x2="162"/><line class="a" x2="19"/></g>
</g>
<rect class="mk" x="292" y="-4" width="7.45" height="91"/>
<path class="tk" d="M294.3 5.73h4.5m-4.5 14.33h4.5m-4.5 14.33h4.5m-4.5 14.33h4.5m-4.5 14.33h4.5m-4.5 14.33h4.5"/>
<line class="ax" x1="298.8" y1="-2.9" x2="298.8" y2="86.01"/>
<rect class="hd" x="183.3" y="0" width="20" height="83.11"/>
<text class="fl" transform="translate(159.5,41.56) rotate(-90)">MC-2</text>
<text class="dl" x="220.7" y="11.6">0–2</text><text class="dl" x="220.7" y="25.93">4–6</text><text class="dl" x="220.7" y="40.26">10–12</text><text class="dl" x="220.7" y="54.59">20–22</text><text class="dl" x="220.7" y="68.92">30–35</text><text class="dl" x="220.7" y="83.25">40–44</text>
</g>

<!-- MD -->
<g transform="translate(0,1315.53)">
<g class="B" transform="translate(293.03,0) scale(0.647229,1)">
<g transform="translate(0,5.73)"><line class="n" x2="1562"/><line class="m" x2="1433"/><line class="l" x2="893"/><line class="k" x2="890"/><line class="j" x2="443"/><line class="i" x2="289"/><line class="h" x2="282"/><line class="g" x2="275"/><line class="f" x2="247"/><line class="e" x2="218"/><line class="d" x2="216"/><line class="c" x2="139"/><line class="a" x2="73"/></g>
<g transform="translate(0,20.06)"><line class="n" x2="1562"/><line class="m" x2="1444"/><line class="l" x2="846"/><line class="k" x2="836"/><line class="j" x2="413"/><line class="i" x2="288"/><line class="h" x2="281"/><line class="g" x2="272"/><line class="f" x2="256"/><line class="e" x2="217"/><line class="d" x2="210"/><line class="c" x2="108"/><line class="a" x2="68"/></g>
<g transform="translate(0,34.39)"><line class="n" x2="1562"/><line class="m" x2="1457"/><line class="l" x2="783"/><line class="k" x2="776"/><line class="j" x2="384"/><line class="i" x2="269"/><line class="h" x2="260"/><line class="g" x2="250"/><line class="f" x2="228"/><line class="e" x2="192"/><line class="d" x2="187"/><line class="c" x2="119"/><line class="a" x2="88"/></g>
<g transform="translate(0,48.72)"><line class="n" x2="1562"/><line class="m" x2="1471"/><line class="l" x2="846"/><line class="k" x2="823"/><line class="j" x2="506"/><line class="i" x2="400"/><line class="h" x2="375"/><line class="g" x2="366"/><line class="f" x2="358"/><line class="e" x2="206"/><line class="d" x2="193"/><line class="c" x2="82"/><line class="a" x2="72"/></g>
</g>
<rect class="mk" x="292" y="-4" width="7.45" height="63"/>
<path class="tk" d="M294.3 5.73h4.5m-4.5 14.33h4.5m-4.5 14.33h4.5m-4.5 14.33h4.5"/>
<line class="ax" x1="298.8" y1="-2.9" x2="298.8" y2="57.35"/>
<rect class="ab" x="183.3" y="0" width="20" height="54.45"/>
<text class="fl" transform="translate(159.5,27.23) rotate(-90)">MD</text>
<text class="dl" x="220.7" y="11.6">0–2</text><text class="dl" x="220.7" y="25.93">2–5</text><text class="dl" x="220.7" y="40.26">5–10</text><text class="dl" x="220.7" y="54.59">15–20</text>
</g>

<!-- ME -->
<g transform="translate(0,1385.5)">
<g class="B" transform="translate(293.03,0) scale(0.647229,1)">
<g transform="translate(0,5.73)"><line class="n" x2="1562"/><line class="m" x2="1396"/><line class="k" x2="1040"/><line class="j" x2="458"/><line class="i" x2="295"/><line class="h" x2="287"/><line class="g" x2="279"/><line class="f" x2="259"/><line class="e" x2="245"/><line class="d" x2="243"/><line class="c" x2="181"/><line class="a" x2="91"/></g>
<g transform="translate(0,20.06)"><line class="n" x2="1562"/><line class="m" x2="1410"/><line class="l" x2="915"/><line class="k" x2="910"/><line class="j" x2="463"/><line class="i" x2="319"/><line class="h" x2="314"/><line class="g" x2="301"/><line class="f" x2="289"/><line class="e" x2="259"/><line class="d" x2="256"/><line class="c" x2="126"/><line class="a" x2="86"/></g>
<g transform="translate(0,34.39)"><line class="n" x2="1562"/><line class="m" x2="1418"/><line class="l" x2="913"/><line class="k" x2="905"/><line class="j" x2="451"/><line class="i" x2="309"/><line class="h" x2="303"/><line class="g" x2="288"/><line class="f" x2="276"/><line class="e" x2="244"/><line class="d" x2="239"/><line class="c" x2="117"/><line class="a" x2="80"/></g>
<g transform="translate(0,48.72)"><line class="n" x2="1562"/><line class="m" x2="1444"/><line class="l" x2="809"/><line class="k" x2="793"/><line class="j" x2="366"/><line class="i" x2="256"/><line class="h" x2="253"/><line class="g" x2="238"/><line class="f" x2="229"/><line class="e" x2="196"/><line class="d" x2="190"/><line class="c" x2="100"/><line class="a" x2="76"/></g>
<g transform="translate(0,63.05)"><line class="n" x2="1562"/><line class="m" x2="1477"/><line class="l" x2="727"/><line class="k" x2="710"/><line class="j" x2="296"/><line class="i" x2="197"/><line class="h" x2="193"/><line class="g" x2="176"/><line class="f" x2="175"/><line class="e" x2="150"/><line class="d" x2="144"/><line class="c" x2="82"/><line class="a" x2="68"/></g>
<g transform="translate(0,77.38)"><line class="n" x2="1562"/><line class="m" x2="1466"/><line class="l" x2="790"/><line class="k" x2="779"/><line class="j" x2="382"/><line class="i" x2="275"/><line class="h" x2="269"/><line class="g" x2="252"/><line class="f" x2="251"/><line class="e" x2="185"/><line class="d" x2="182"/><line class="c" x2="100"/><line class="a" x2="89"/></g>
<g transform="translate(0,91.71)"><line class="n" x2="1562"/><line class="m" x2="1469"/><line class="l" x2="843"/><line class="k" x2="829"/><line class="j" x2="520"/><line class="i" x2="346"/><line class="h" x2="330"/><line class="g" x2="309"/><line class="f" x2="294"/><line class="e" x2="167"/><line class="d" x2="165"/><line class="c" x2="91"/><line class="a" x2="76"/></g>
<g transform="translate(0,106.04)"><line class="n" x2="1562"/><line class="m" x2="1453"/><line class="l" x2="932"/><line class="k" x2="921"/><line class="j" x2="582"/><line class="i" x2="418"/><line class="h" x2="404"/><line class="g" x2="377"/><line class="f" x2="361"/><line class="e" x2="231"/><line class="d" x2="230"/><line class="c" x2="106"/><line class="a" x2="104"/></g>
</g>
<rect class="mk" x="292" y="-4" width="7.45" height="120"/>
<path class="tk" d="M294.3 5.73h4.5m-4.5 14.33h4.5m-4.5 14.33h4.5m-4.5 14.33h4.5m-4.5 14.33h4.5m-4.5 14.33h4.5m-4.5 14.33h4.5m-4.5 14.33h4.5"/>
<line class="ax" x1="298.8" y1="-2.9" x2="298.8" y2="114.67"/>
<rect class="ab" x="183.3" y="0" width="20" height="111.77"/>
<text class="fl" transform="translate(159.5,55.89) rotate(-90)">ME</text>
<text class="dl" x="220.7" y="11.6">0–2</text><text class="dl" x="220.7" y="25.93">2–5</text><text class="dl" x="220.7" y="40.26">5–10</text><text class="dl" x="220.7" y="54.59">10–15</text><text class="dl" x="220.7" y="68.92">15–20</text><text class="dl" x="220.7" y="83.25">20–25</text><text class="dl" x="220.7" y="97.58">25–30</text><text class="dl" x="220.7" y="111.91">30–35</text>
</g>

<!-- MF -->
<g transform="translate(0,1512.79)">
<g class="B" transform="translate(293.03,0) scale(0.647229,1)">
<g transform="translate(0,5.73)"><line class="n" x2="1562"/><line class="m" x2="1434"/><line class="l" x2="875"/><line class="k" x2="871"/><line class="j" x2="429"/><line class="i" x2="286"/><line class="h" x2="279"/><line class="g" x2="270"/><line class="f" x2="241"/><line class="e" x2="217"/><line class="d" x2="215"/><line class="c" x2="136"/><line class="a" x2="80"/></g>
<g transform="translate(0,20.06)"><line class="n" x2="1562"/><line class="m" x2="1461"/><line class="l" x2="810"/><line class="k" x2="805"/><line class="j" x2="373"/><line class="i" x2="247"/><line class="h" x2="241"/><line class="g" x2="230"/><line class="f" x2="210"/><line class="e" x2="183"/><line class="d" x2="179"/><line class="c" x2="109"/><line class="a" x2="73"/></g>
<g transform="translate(0,34.39)"><line class="n" x2="1562"/><line class="m" x2="1488"/><line class="l" x2="714"/><line class="k" x2="703"/><line class="j" x2="305"/><line class="i" x2="176"/><line class="h" x2="170"/><line class="g" x2="157"/><line class="f" x2="139"/><line class="e" x2="128"/><line class="d" x2="127"/><line class="c" x2="88"/><line class="a" x2="75"/></g>
<g transform="translate(0,48.72)"><line class="n" x2="1562"/><line class="m" x2="1429"/><line class="l" x2="938"/><line class="k" x2="920"/><line class="j" x2="408"/><line class="i" x2="220"/><line class="h" x2="212"/><line class="g" x2="201"/><line class="f" x2="177"/><line class="e" x2="171"/><line class="d" x2="170"/><line class="c" x2="105"/><line class="a" x2="104"/></g>
</g>
<rect class="mk" x="292" y="-4" width="7.45" height="63"/>
<path class="tk" d="M294.3 5.73h4.5m-4.5 14.33h4.5m-4.5 14.33h4.5m-4.5 14.33h4.5"/>
<line class="ax" x1="298.8" y1="-2.9" x2="298.8" y2="57.35"/>
<rect class="ab" x="183.3" y="0" width="20" height="54.45"/>
<text class="fl" transform="translate(159.5,27.23) rotate(-90)">MF</text>
<text class="dl" x="220.7" y="11.6">0–2</text><text class="dl" x="220.7" y="25.93">2–5</text><text class="dl" x="220.7" y="40.26">5–10</text><text class="dl" x="220.7" y="54.59">15–20</text>
</g>

<!-- dashed separators -->
<line x1="0" y1="207" x2="1309" y2="207" stroke="#000" stroke-width="4.3" stroke-dasharray="15.5 11" stroke-dashoffset="7.1"/>
<line x1="0" y1="1026" x2="1309" y2="1026" stroke="#000" stroke-width="4.3" stroke-dasharray="15.5 11" stroke-dashoffset="7.1"/>

<!-- x axis -->
<line class="ax" x1="297.7" y1="1570.5" x2="1304.6" y2="1570.5"/>
<g stroke="#111" stroke-width="2">
<line x1="299.5" y1="1570" x2="299.5" y2="1576.5"/><line x1="500.4" y1="1570" x2="500.4" y2="1576.5"/><line x1="701.3" y1="1570" x2="701.3" y2="1576.5"/><line x1="902.2" y1="1570" x2="902.2" y2="1576.5"/><line x1="1103.1" y1="1570" x2="1103.1" y2="1576.5"/><line x1="1303.6" y1="1570" x2="1303.6" y2="1576.5"/>
</g>
<text class="xt" x="299.5" y="1605">0</text><text class="xt" x="500.4" y="1605">20</text><text class="xt" x="701.3" y="1605">40</text><text class="xt" x="902.2" y="1605">60</text><text class="xt" x="1103.1" y="1605">80</text><text class="xt" x="1304" y="1605">100</text>
<text x="801.75" y="1643" style="font-size:42px;text-anchor:middle">Relative abundance (%)</text>

<!-- legend -->
<rect x="1335" y="546.6" width="37.7" height="37.7" fill="#66C2A5"/>
<rect x="1335" y="586.85" width="37.7" height="37.7" fill="#FC8D62"/>
<rect x="1335" y="627.1" width="37.7" height="37.7" fill="#8DA0CB"/>
<rect x="1335" y="667.35" width="37.7" height="37.7" fill="#E78AC3"/>
<rect x="1335" y="707.6" width="37.7" height="37.7" fill="#A6D854"/>
<rect x="1335" y="747.85" width="37.7" height="37.7" fill="#FFD92F"/>
<rect x="1335" y="788.1" width="37.7" height="37.7" fill="#E5C494"/>
<rect x="1335" y="828.35" width="37.7" height="37.7" fill="#B3B3B3"/>
<rect x="1335" y="868.6" width="37.7" height="37.7" fill="#1B9E77"/>
<rect x="1335" y="908.85" width="37.7" height="37.7" fill="#D95F02"/>
<rect x="1335" y="949.1" width="37.7" height="37.7" fill="#7570B3"/>
<rect x="1335" y="989.35" width="37.7" height="37.7" fill="#E7298A"/>
<rect x="1335" y="1029.6" width="37.7" height="37.7" fill="#66A61E"/>
<rect x="1335" y="1069.85" width="37.7" height="37.7" fill="#000"/>
<text class="lg" x="1375" y="576.2">Acidobacteria</text>
<text class="lg" x="1375" y="616.45">Atribacteria</text>
<text class="lg" x="1375" y="656.7">Bacteroidetes</text>
<text class="lg" x="1375" y="696.95">Chloroflexi</text>
<text class="lg" x="1375" y="737.2">Marinimicrobia</text>
<text class="sm" x="1580" y="735.5">(SAR406 clade)</text>
<text class="lg" x="1375" y="777.45">Nanoarchaeaeota</text>
<text class="sm" x="1610" y="775.8">(Woesearchaeota)</text>
<text class="lg" x="1375" y="817.7">Nitrospinae</text>
<text class="lg" x="1375" y="857.95">Nitrospirae</text>
<text class="lg" x="1375" y="898.2">Patescibacteria</text>
<text class="lg" x="1375" y="938.45">Planctomycetes</text>
<text class="lg" x="1375" y="978.7">Proteobacteria</text>
<text class="lg" x="1375" y="1018.95">Schekmanbacteria</text>
<text class="lg" x="1375" y="1059.2">Thaumarchaeota</text>
<text class="lg" x="1375" y="1099.45">Other</text>
</svg>
</body></html>
